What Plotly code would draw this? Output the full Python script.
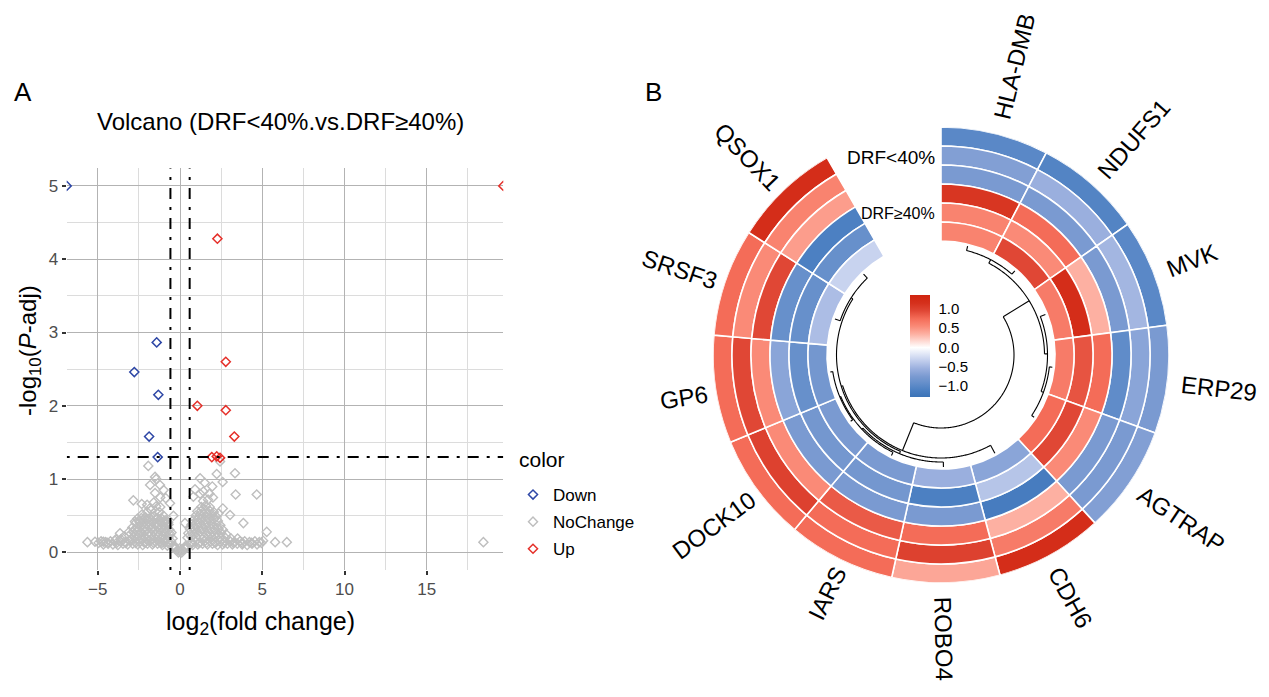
import numpy as np
import plotly.graph_objects as go

# The page adds an 8px body margin, so the figure is drawn 8px in from the window edge.
OFF = 8
W, H = 1269 - 2 * OFF, 697 - 2 * OFF
FONT = "Liberation Sans, Arial, Helvetica, sans-serif"


def PX(px):
    return (px - OFF) / W


def PY(py):
    return (H - (py - OFF)) / H


# ---------------- Panel A: volcano data ----------------
fc_cut = 0.585      # log2(1.5)
p_cut = 1.301       # -log10(0.05)

down_x = [float("-inf"), -1.42, -2.78, -1.32, -1.88, -1.36]
down_y = [5.0, 2.865, 2.46, 2.15, 1.58, 1.30]

up_x = [float("inf"), 2.27, 2.78, 1.05, 2.78, 3.30, 1.93, 2.23, 2.43]
up_y = [5.0, 4.28, 2.60, 2.00, 1.94, 1.58, 1.30, 1.31, 1.29]

# no-change genes (read off the dense grey cloud)
band1_x = [-4.80, -4.52, -4.23, -3.95, -3.62, -3.33, -3.02, -2.74, -2.43, -2.12, -1.84, -1.53, -1.22, -0.93, -0.62,
           0.63, 0.91, 1.24, 1.52, 1.83, 2.11, 2.44, 2.72, 3.05, 3.31, 3.64, 3.93, 4.22, 4.55, 4.82]
band1_y = [0.15, 0.14, 0.15, 0.16, 0.15, 0.14, 0.16, 0.15, 0.15, 0.14, 0.16, 0.15, 0.14, 0.15, 0.13,
           0.13, 0.15, 0.14, 0.16, 0.15, 0.14, 0.15, 0.16, 0.15, 0.14, 0.15, 0.15, 0.14, 0.15, 0.14]
band2_x = [-4.66, -4.37, -4.08, -3.78, -3.47, -3.18, -2.88, -2.57, -2.27, -1.98, -1.68, -1.37, -1.07, -0.77, -0.47,
           0.48, 0.77, 1.08, 1.37, 1.67, 1.97, 2.28, 2.58, 2.88, 3.18, 3.48, 3.78, 4.08, 4.38, 4.68]
band2_y = [0.11, 0.12, 0.11, 0.10, 0.12, 0.11, 0.12, 0.11, 0.10, 0.12, 0.11, 0.12, 0.10, 0.09, 0.08,
           0.08, 0.10, 0.11, 0.12, 0.11, 0.12, 0.10, 0.11, 0.12, 0.11, 0.12, 0.11, 0.10, 0.12, 0.11]
band3_x = [-4.95, -4.40, -3.85, -3.30, -2.70, -2.15, -1.60, -1.10, -0.70, -0.35, 0.35, 0.70, 1.15, 1.60,
           2.15, 2.70, 3.25, 3.80, 4.35, 4.95, 5.05]
band3_y = [0.13, 0.13, 0.13, 0.13, 0.13, 0.13, 0.13, 0.13, 0.12, 0.09, 0.09, 0.12, 0.13, 0.13,
           0.13, 0.13, 0.13, 0.13, 0.13, 0.13, 0.16]
lwing_x = [-2.30, -2.00, -1.75, -1.50, -1.25, -1.00,
           -2.60, -2.35, -2.10, -1.85, -1.60, -1.35, -1.10, -0.85,
           -2.70, -2.45, -2.20, -1.95, -1.70, -1.45, -1.20, -0.95, -0.70,
           -2.90, -2.65, -2.40, -2.15, -1.90, -1.65, -1.40, -1.15, -0.90, -0.65,
           -3.10, -2.85, -2.60, -2.35, -2.10, -1.85, -1.60, -1.35, -1.10, -0.85, -0.60,
           -3.40, -3.10, -2.80, -2.50, -2.20, -1.90, -1.60, -1.30, -1.00, -0.70, -0.45,
           -3.90, -3.60, -2.95, -2.65, -2.35, -2.05, -1.75, -1.45, -1.15, -0.85, -0.55,
           -2.00, -1.60, -1.20, -0.30, -1.85, -1.45,
           -2.48, -2.22, -1.98, -1.72, -1.48, -1.22, -0.98, -0.72, -2.75, -2.52, -2.28, -2.02, -1.78, -1.52,
           -1.28, -1.02, -0.78, -0.52]
lwing_y = [0.52, 0.55, 0.58, 0.56, 0.55, 0.50,
           0.46, 0.47, 0.48, 0.47, 0.49, 0.47, 0.46, 0.44,
           0.40, 0.41, 0.40, 0.42, 0.41, 0.40, 0.41, 0.40, 0.38,
           0.34, 0.34, 0.35, 0.34, 0.35, 0.34, 0.35, 0.34, 0.33, 0.31,
           0.28, 0.28, 0.29, 0.28, 0.29, 0.28, 0.29, 0.28, 0.28, 0.27, 0.25,
           0.22, 0.23, 0.22, 0.23, 0.22, 0.23, 0.22, 0.23, 0.22, 0.21, 0.19,
           0.18, 0.18, 0.18, 0.18, 0.18, 0.18, 0.18, 0.18, 0.18, 0.17, 0.15,
           0.65, 0.68, 0.62, 0.07, 0.60, 0.63,
           0.43, 0.44, 0.45, 0.44, 0.45, 0.44, 0.43, 0.41, 0.31, 0.31, 0.32, 0.31, 0.32, 0.31,
           0.31, 0.30, 0.29, 0.27]
rwing_x = [1.30, 1.55, 1.80,
           1.05, 1.30, 1.55, 1.80, 2.05,
           0.95, 1.20, 1.45, 1.70, 1.95, 2.20,
           0.80, 1.05, 1.30, 1.55, 1.80, 2.05, 2.30,
           0.70, 0.95, 1.20, 1.45, 1.70, 1.95, 2.20, 2.45,
           0.60, 0.85, 1.10, 1.35, 1.60, 1.85, 2.10, 2.35, 2.60,
           0.50, 0.75, 1.00, 1.25, 1.50, 1.75, 2.00, 2.25, 2.50, 2.80,
           0.45, 0.70, 0.95, 1.20, 1.45, 1.70, 1.95, 2.20, 2.45, 2.75, 3.10, 3.50,
           1.40, 1.70, 0.30]
rwing_y = [0.62, 0.64, 0.62,
           0.56, 0.57, 0.58, 0.57, 0.55,
           0.50, 0.51, 0.52, 0.52, 0.51, 0.49,
           0.44, 0.45, 0.46, 0.45, 0.46, 0.45, 0.43,
           0.38, 0.39, 0.40, 0.39, 0.40, 0.39, 0.38, 0.37,
           0.32, 0.33, 0.34, 0.33, 0.34, 0.33, 0.32, 0.32, 0.31,
           0.26, 0.27, 0.27, 0.28, 0.27, 0.28, 0.27, 0.26, 0.26, 0.25,
           0.20, 0.21, 0.21, 0.22, 0.21, 0.22, 0.21, 0.21, 0.20, 0.20, 0.19, 0.19,
           0.70, 0.72, 0.07]
centre_x = [0.00, -0.15, 0.15, -0.30, 0.30, 0.00, -0.10, 0.10]
centre_y = [0.01, 0.03, 0.03, 0.05, 0.05, 0.06, 0.00, 0.00]
scatter_x = [-5.63, -5.17, -4.66, -3.65, -2.74, -2.84, -2.33, -1.93, -1.52, -1.45, -1.82, -1.22, -1.52, -0.87,
             -0.61, -1.00, 1.22, 0.91, 1.22, 1.42, 1.78, 1.96, 2.23, 2.59, 2.43, 3.34, 3.38, 4.66, 0.81, 3.04,
             3.85, 2.33, 5.27, 5.78, 6.49, 18.44, 2.60, 2.00, 1.50, -1.20, -0.40, 0.30]
scatter_y = [0.14, 0.145, 0.145, 0.26, 0.42, 0.71, 0.66, 1.18, 1.03, 1.00, 0.92, 0.92, 0.81, 0.74,
             0.67, 0.85, 1.01, 0.86, 0.80, 0.83, 0.80, 0.90, 1.07, 0.96, 1.24, 1.08, 0.79, 0.79, 0.76, 0.51,
             0.40, 0.53, 0.28, 0.14, 0.14, 0.14, 0.60, 0.75, 0.95, 0.75, 0.50, 0.40]

nochange_x = band1_x + band2_x + band3_x + lwing_x + rwing_x + centre_x + scatter_x
nochange_y = band1_y + band2_y + band3_y + lwing_y + rwing_y + centre_y + scatter_y
assert len(nochange_x) == len(nochange_y)

x_ticks = [-5, 0, 5, 10, 15]
y_ticks = [0, 1, 2, 3, 4, 5]

# ---------------- Panel B: circular heatmap data ----------------
genes = ["HLA-DMB", "NDUFS1", "MVK", "ERP29", "AGTRAP", "CDH6",
         "ROBO4", "IARS", "DOCK10", "GP6", "SRSF3", "QSOX1"]
# rings from outside to inside: three DRF<40% samples then three DRF>=40% samples
drf_lt40_1 = [-1.00, -1.05, -1.00, -0.75, -0.70, 1.20, 0.40, 0.75, 0.75, 0.75, 0.75, 1.20]
drf_lt40_2 = [-0.70, -0.55, -0.50, -0.65, -0.75, 0.65, 1.00, 0.75, 1.00, 0.95, 0.55, 0.60]
drf_lt40_3 = [-0.75, -0.75, -0.75, -0.95, -0.75, 0.35, 0.75, 0.85, 0.55, 0.55, 0.95, 0.45]
drf_ge40_1 = [1.10, 0.75, 0.35, 0.75, 0.55, -1.15, -0.75, -0.75, -0.75, -0.65, -0.90, -1.10]
drf_ge40_2 = [0.60, 0.55, 1.20, 0.88, 0.95, -0.40, -1.10, -0.80, -0.80, -0.90, -0.90, -0.90]
drf_ge40_3 = [0.60, 0.95, 0.65, 0.65, 0.75, -0.65, -0.55, -0.75, -0.75, -0.80, -0.45, -0.30]
rings = [drf_lt40_1, drf_lt40_2, drf_lt40_3, drf_ge40_1, drf_ge40_2, drf_ge40_3]
group_labels = ["DRF&lt;40%", "DRF≥40%"]

# hierarchical clustering of genes: (left, right, height); ints refer to earlier merges
merges = [("HLA-DMB", "NDUFS1", 4.5),
          ("ERP29", "AGTRAP", 3.0),
          ("MVK", 1, 5.5),
          (0, 2, 8.5),
          ("DOCK10", "GP6", 2.5),
          ("IARS", 4, 3.5),
          ("ROBO4", 5, 5.0),
          ("SRSF3", "QSOX1", 5.5),
          (6, 7, 7.5),
          ("CDH6", 8, 9.0),
          (3, 9, 39.0)]

# colour mapping (value -> colour)
col_vals = [-1.28, -1.1, -0.9, -0.75, -0.55, -0.3, 0.0, 0.35, 0.55, 0.75, 0.95, 1.15, 1.36]
col_hex = ["#3B73B7", "#4C80C2", "#6790CB", "#7A9AD1", "#9AAFDE", "#C8D3EF", "#FFFFFF",
           "#FDB0A2", "#FA8A77", "#F46C58", "#E04735", "#D5301C", "#D0240F"]
legend_ticks = [-1.0, -0.5, 0.0, 0.5, 1.0]

# ---------------- figure ----------------
fig = go.Figure()
xr = [-6.89, 19.65]
yr = [-0.24, 5.24]


def squish(v, lo, hi):
    return [lo if a == float("-inf") else hi if a == float("inf") else a for a in v]


MS = 7
fig.add_trace(go.Scatter(x=nochange_x, y=nochange_y, mode="markers", name="NoChange",
                         marker=dict(symbol="diamond-open", size=MS, color="#BEBEBE", line=dict(width=1.4)),
                         legendrank=2, legendgroup="b", xaxis="x", yaxis="y"))
fig.add_trace(go.Scatter(x=squish(down_x, *xr), y=down_y, mode="markers", name="Down",
                         marker=dict(symbol="diamond-open", size=MS, color="#2E47A6", line=dict(width=1.5)),
                         legendrank=1, legendgroup="a", xaxis="x", yaxis="y"))
fig.add_trace(go.Scatter(x=squish(up_x, *xr), y=up_y, mode="markers", name="Up",
                         marker=dict(symbol="diamond-open", size=MS, color="#E5302A", line=dict(width=1.5)),
                         legendrank=3, legendgroup="c", xaxis="x", yaxis="y"))

dash = "3px,8px,11px,8px"
for xv in (-fc_cut, fc_cut):
    fig.add_shape(type="line", xref="x", yref="y", x0=xv, x1=xv, y0=yr[0], y1=yr[1],
                  line=dict(color="black", width=2, dash=dash))
fig.add_shape(type="line", xref="x", yref="y", x0=xr[0], x1=xr[1], y0=p_cut, y1=p_cut,
              line=dict(color="black", width=2, dash=dash))

# ---- circular heatmap ----
n = len(genes)
gap = 30.0
sw = (360.0 - gap) / n
centres = [sw * (i + 0.5) for i in range(n)]
R_OUT, RING = 228.0, 19.0
thetas, rs, bases, vals = [], [], [], []
for k, ring in enumerate(rings):
    for i, v in enumerate(ring):
        thetas.append(centres[i])
        rs.append(RING)
        bases.append(R_OUT - RING * (k + 1))
        vals.append(v)

cmin, cmax = col_vals[0], col_vals[-1]
cscale = [[(v - cmin) / (cmax - cmin), c] for v, c in zip(col_vals, col_hex)]

fig.add_trace(go.Barpolar(
    theta=thetas, r=rs, base=bases, width=[sw] * len(thetas), subplot="polar", showlegend=False,
    marker=dict(color=vals, colorscale=cscale, cmin=cmin, cmax=cmax, line=dict(color="white", width=1.6),
                showscale=True,
                colorbar=dict(x=PX(910), xanchor="left", xpad=0, y=PY(346), yanchor="middle", ypad=0,
                              len=102, lenmode="pixels", thickness=20, thicknessmode="pixels",
                              outlinewidth=0, tickvals=legend_ticks,
                              ticktext=["−1.0" if t == -1 else "−0.5" if t == -0.5 else f"{t:.1f}" for t in legend_ticks],
                              ticks="outside", ticklen=6, tickcolor="rgba(255,255,255,0)", tickwidth=1,
                              tickfont=dict(size=15, color="black", family=FONT))),
    hoverinfo="skip"))

# dendrogram
R_LEAF = 112.0
pos, rad = {}, {}
for g, c in zip(genes, centres):
    pos[g], rad[g] = c, R_LEAF
dt, dr = [], []
for j, (a, b, h) in enumerate(merges):
    rn = R_LEAF - h
    pa, pb = pos[a], pos[b]
    arc = np.linspace(pa, pb, max(3, int(abs(pb - pa) * 2)))
    dt += list(arc) + [None]
    dr += [rn] * len(arc) + [None]
    for c in (a, b):
        dt += [pos[c], pos[c], None]
        dr += [rn, rad[c], None]
    pos[j], rad[j] = (pa + pb) / 2, rn

fig.add_trace(go.Scatterpolar(theta=dt, r=dr, mode="lines", line=dict(color="black", width=1.1),
                              connectgaps=False, subplot="polar", showlegend=False, hoverinfo="skip"))

CX, CY = 941.0, 355.0
fig.update_layout(polar=dict(
    domain=dict(x=[PX(CX - R_OUT), PX(CX + R_OUT)], y=[PY(CY + R_OUT), PY(CY - R_OUT)]),
    bgcolor="rgba(0,0,0,0)", hole=0,
    radialaxis=dict(range=[0, R_OUT], visible=False),
    angularaxis=dict(visible=False, rotation=90, direction="clockwise")))

# gene labels
cw = {"A": .667, "B": .667, "C": .722, "D": .722, "E": .667, "F": .611, "G": .778, "H": .722, "I": .278,
      "K": .667, "L": .556, "M": .833, "N": .722, "O": .778, "P": .667, "Q": .778, "R": .722, "S": .667,
      "T": .611, "U": .722, "V": .667, "X": .667, "-": .45}
LFS = 24
annots = []
for g, th in zip(genes, centres):
    L = sum(cw.get(ch, .556) for ch in g) * LFS
    r0 = 242 if th <= 180 else 236
    r = r0 + L / 2
    t = np.radians(th)
    ang = th - 90 if th <= 180 else th - 270
    a = np.radians(ang)
    px = CX + r * np.sin(t) - 3 * np.sin(a)
    py = CY - r * np.cos(t) + 3 * np.cos(a)
    annots.append(dict(x=PX(px), y=PY(py), xref="paper", yref="paper", text=g, showarrow=False,
                       textangle=ang, xanchor="center", yanchor="middle",
                       font=dict(size=LFS, color="black", family=FONT)))

annots.append(dict(x=PX(937), y=PY(157), xref="paper", yref="paper", text=group_labels[0],
                   showarrow=False, xanchor="right", yanchor="middle", font=dict(size=19, color="black", family=FONT)))
annots.append(dict(x=PX(937), y=PY(213), xref="paper", yref="paper", text=group_labels[1],
                   showarrow=False, xanchor="right", yanchor="middle", font=dict(size=16, color="black", family=FONT)))

# panel A texts
extra = [
    dict(x=PX(12), y=PY(92), text="A", xanchor="left", font=dict(size=26)),
    dict(x=PX(643), y=PY(92), text="B", xanchor="left", font=dict(size=26)),
    dict(x=PX(280), y=PY(122), text="Volcano (DRF&lt;40%.vs.DRF≥40%)", xanchor="center", font=dict(size=24)),
    dict(x=PX(260), y=PY(623), text="log<sub>2</sub>(fold change)", xanchor="center", font=dict(size=25)),
    dict(x=PX(30), y=PY(351), text="-log<sub>10</sub>(<i>P</i>-adj)", xanchor="center", textangle=-90,
         font=dict(size=24)),
    dict(x=PX(517), y=PY(459), text="color", xanchor="left", font=dict(size=21)),
]
for a_ in extra:
    a_.update(xref="paper", yref="paper", showarrow=False, yanchor="middle")
    a_["font"].update(color="black", family=FONT)
annots += extra

axis_common = dict(showgrid=True, gridcolor="#B3B3B3", gridwidth=1.2, zeroline=False, showline=False,
                   ticks="outside", ticklen=4, tickwidth=1.5, tickcolor="#333333",
                   tickfont=dict(size=17, color="#4D4D4D", family=FONT), automargin=False, fixedrange=True)

fig.update_layout(
    width=W, height=H, margin=dict(l=0, r=0, t=0, b=0),
    paper_bgcolor="white", plot_bgcolor="white",
    font=dict(family=FONT, color="black"),
    xaxis=dict(domain=[PX(66.7), PX(503.3)], range=xr, anchor="y", tickmode="array", tickvals=x_ticks,
               minor=dict(tickvals=[-2.5, 2.5, 7.5, 12.5, 17.5], showgrid=True, gridcolor="#DCDCDC",
                          gridwidth=0.8, ticks=""), **axis_common),
    yaxis=dict(domain=[PY(570), PY(168.3)], range=yr, anchor="x", tickmode="array", tickvals=y_ticks,
               minor=dict(tickvals=[0.5, 1.5, 2.5, 3.5, 4.5], showgrid=True, gridcolor="#DCDCDC",
                          gridwidth=0.8, ticks=""), **axis_common),
    legend=dict(x=PX(513), xanchor="left", y=PY(477), yanchor="top", bgcolor="rgba(0,0,0,0)",
                font=dict(size=17, color="black", family=FONT), traceorder="grouped", tracegroupgap=2,
                itemsizing="trace"),
    annotations=annots,
    showlegend=True,
)

fig.write_html("out.html")
